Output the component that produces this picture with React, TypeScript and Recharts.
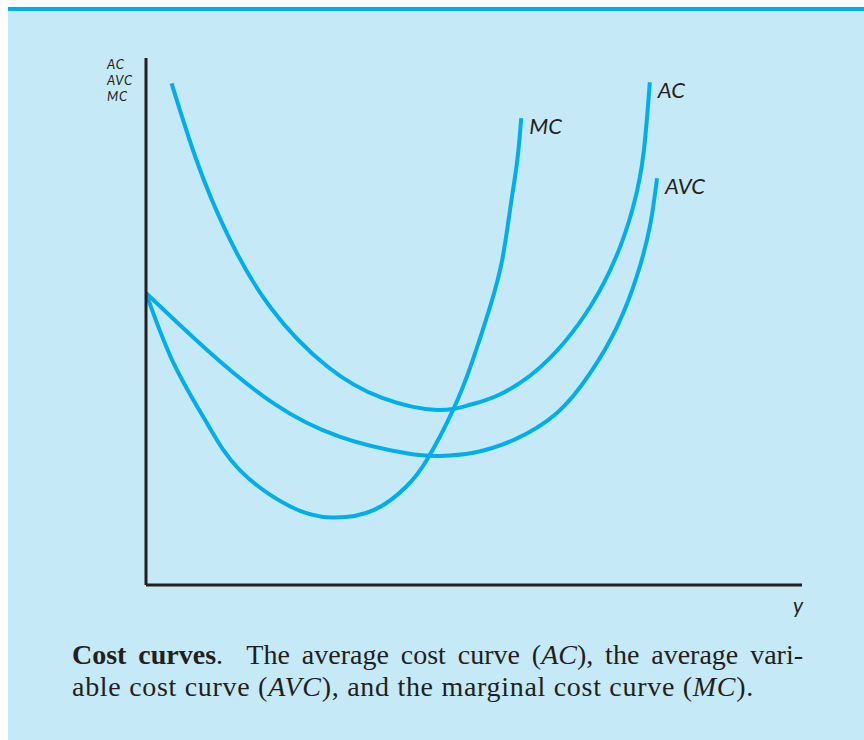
import { LineChart, Line, XAxis, YAxis, Label } from "recharts";

// quantity (x) and cost (y), both on a 0–10 scale
const acQ = [0.39, 0.77, 1.23, 1.89, 2.76, 3.6, 4.44, 4.94, 5.4, 6.16, 6.97, 7.42, 7.59, 7.68];
const acV = [9.52, 8.06, 6.68, 5.28, 4.15, 3.55, 3.32, 3.42, 3.62, 4.31, 5.71, 7.15, 8.25, 9.54];

const avcQ = [0, 0.93, 1.94, 2.96, 3.97, 4.48, 4.99, 5.6, 6.26, 6.77, 7.18, 7.48, 7.68, 7.79];
const avcV = [5.54, 4.46, 3.45, 2.81, 2.5, 2.45, 2.51, 2.75, 3.26, 4.02, 4.9, 5.85, 6.8, 7.72];

const mcQ = [0, 0.42, 0.93, 1.43, 2.2, 2.83, 3.47, 3.97, 4.28, 4.68, 4.97, 5.24, 5.43, 5.56, 5.66, 5.72];
const mcV = [5.54, 4.21, 3.07, 2.18, 1.49, 1.28, 1.42, 1.87, 2.37, 3.32, 4.23, 5.26, 6.17, 7.21, 8.06, 8.86];

const yAxisLabels = ["AC", "AVC", "MC"];
const xAxisLabel = "y";

const CURVE = "#00aeef";
const INK = "#231f20";
const BG = "#c6e9f8";
const SANS = "Lato, 'Open Sans', sans-serif";

const toRows = (q: number[], v: number[]) => q.map((x, i) => ({ q: x, v: v[i] }));

const endLabel = (name: string, count: number) => (props: any) => {
  const { x, y, index } = props;
  if (index !== count - 1) return null;
  return (
    <text x={x + 8} y={y + 16} fill={INK} fontSize={22} fontStyle="italic" fontFamily={SANS}>
      {name}
    </text>
  );
};

export default function App() {
  return (
    <div style={{ position: "relative", width: 864, height: 740, background: "#fff" }}>
      <style>{`body{margin:0}`}</style>
      <div
        style={{
          position: "absolute",
          left: 8,
          top: 7,
          width: 856,
          height: 733,
          background: BG,
          borderTop: `4px solid ${CURVE}`,
          boxSizing: "border-box",
        }}
      />
      <div style={{ position: "absolute", left: 0, top: 0 }}>
        <LineChart width={864} height={620} margin={{ top: 58, right: 62, bottom: 34, left: 145 }}>
          <XAxis
            type="number"
            dataKey="q"
            domain={[0, 10]}
            allowDataOverflow
            tick={false}
            tickLine={false}
            height={1}
            axisLine={{ stroke: INK, strokeWidth: 3 }}
          >
            <Label
              content={(p: any) => (
                <text
                  x={p.viewBox.x + p.viewBox.width - 9}
                  y={p.viewBox.y + 28}
                  fill={INK}
                  fontSize={21}
                  fontStyle="italic"
                  fontFamily={SANS}
                >
                  {xAxisLabel}
                </text>
              )}
            />
          </XAxis>
          <YAxis
            type="number"
            dataKey="v"
            domain={[0, 10]}
            allowDataOverflow
            tick={false}
            tickLine={false}
            width={1}
            axisLine={{ stroke: INK, strokeWidth: 3 }}
          >
            <Label
              content={() => (
                <g>
                  {yAxisLabels.map((t, i) => (
                    <text
                      key={t}
                      x={107}
                      y={69 + i * 16}
                      fill={INK}
                      fontSize={13}
                      letterSpacing={0.8}
                      fontStyle="italic"
                      fontFamily={SANS}
                    >
                      {t}
                    </text>
                  ))}
                </g>
              )}
            />
          </YAxis>
          <Line
            data={toRows(acQ, acV)}
            dataKey="v"
            type="natural"
            stroke={CURVE}
            strokeWidth={4}
            dot={false}
            isAnimationActive={false}
            label={endLabel("AC", acQ.length)}
          />
          <Line
            data={toRows(avcQ, avcV)}
            dataKey="v"
            type="natural"
            stroke={CURVE}
            strokeWidth={4}
            dot={false}
            isAnimationActive={false}
            label={endLabel("AVC", avcQ.length)}
          />
          <Line
            data={toRows(mcQ, mcV)}
            dataKey="v"
            type="natural"
            stroke={CURVE}
            strokeWidth={4}
            dot={false}
            isAnimationActive={false}
            label={endLabel("MC", mcQ.length)}
          />
        </LineChart>
      </div>
      <div
        style={{
          position: "absolute",
          left: 72,
          top: 639,
          width: 731,
          fontFamily: "'Liberation Serif', 'DejaVu Serif', serif",
          fontSize: 28,
          lineHeight: "32px",
          color: INK,
        }}
      >
        <div style={{ textAlign: "justify", textAlignLast: "justify", whiteSpace: "nowrap" }}>
          <b>Cost curves</b>.&nbsp; The average cost curve (<i>AC</i>), the average vari-
        </div>
        <div style={{ whiteSpace: "nowrap", letterSpacing: 0.7 }}>
          able cost curve (<i>AVC</i>), and the marginal cost curve (<i>MC</i>).
        </div>
      </div>
    </div>
  );
}
